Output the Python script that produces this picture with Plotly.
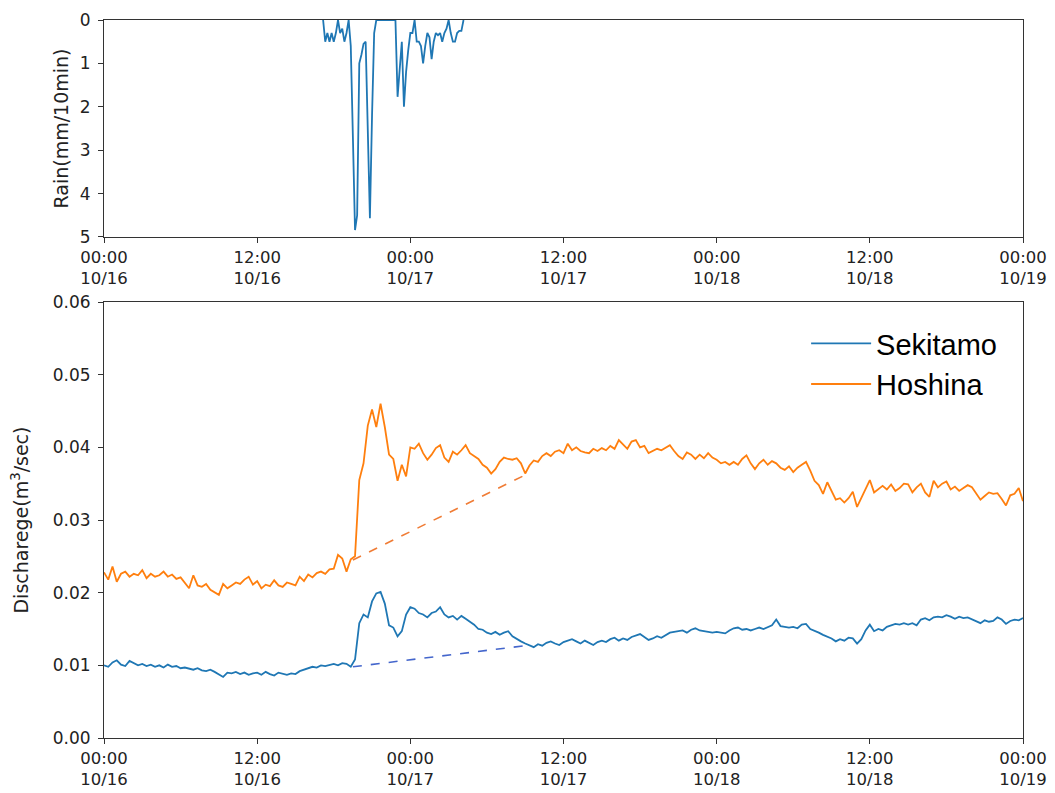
import numpy as np
import pandas as pd
import plotly.graph_objects as go

# ---------------- data ----------------
discharge_start = "2019-10-16 00:00"
discharge_step_min = 20

sekitamo = [
    0.0100, 0.0098, 0.0104, 0.0107, 0.0101, 0.0099, 0.0106, 0.0103, 0.0100,
    0.0102, 0.0099, 0.0101, 0.0098, 0.0100, 0.0097, 0.0101, 0.0098, 0.0099,
    0.0096, 0.0097, 0.0095, 0.0094, 0.0096, 0.0093, 0.0092, 0.0094, 0.0091,
    0.0088, 0.0084, 0.0090, 0.0089, 0.0091, 0.0088, 0.0090, 0.0087, 0.0089,
    0.0090, 0.0087, 0.0091, 0.0088, 0.0086, 0.0090, 0.0089, 0.0087, 0.0089,
    0.0088, 0.0092, 0.0094, 0.0096, 0.0098, 0.0097, 0.0100, 0.0099, 0.0101,
    0.0102, 0.0100, 0.0103, 0.0102, 0.0098, 0.0108, 0.0158, 0.0170, 0.0166,
    0.0188, 0.0199, 0.0201, 0.0185, 0.0155, 0.0152, 0.0140, 0.0147, 0.0170,
    0.0180, 0.0178, 0.0172, 0.0170, 0.0166, 0.0172, 0.0174, 0.0180, 0.0170,
    0.0166, 0.0168, 0.0163, 0.0168, 0.0164, 0.0160, 0.0156, 0.0150, 0.0149,
    0.0145, 0.0143, 0.0146, 0.0142, 0.0145, 0.0147, 0.0140, 0.0136, 0.0133,
    0.0130, 0.0128, 0.0125, 0.0129, 0.0127, 0.0131, 0.0133, 0.0130, 0.0128,
    0.0132, 0.0134, 0.0136, 0.0133, 0.0130, 0.0134, 0.0131, 0.0128, 0.0132,
    0.0134, 0.0132, 0.0136, 0.0138, 0.0134, 0.0137, 0.0135, 0.0139, 0.0141,
    0.0143, 0.0139, 0.0135, 0.0137, 0.0140, 0.0138, 0.0142, 0.0145, 0.0146,
    0.0147, 0.0148, 0.0145, 0.0149, 0.0151, 0.0148, 0.0147, 0.0146, 0.0145,
    0.0146, 0.0145, 0.0144, 0.0148, 0.0151, 0.0152, 0.0149, 0.0150, 0.0148,
    0.0150, 0.0152, 0.0150, 0.0153, 0.0155, 0.0163, 0.0154, 0.0153, 0.0152,
    0.0153, 0.0151, 0.0156, 0.0157, 0.0150, 0.0148, 0.0145, 0.0142, 0.0140,
    0.0137, 0.0133, 0.0136, 0.0134, 0.0138, 0.0137, 0.0130, 0.0136, 0.0148,
    0.0156, 0.0147, 0.0150, 0.0148, 0.0153, 0.0155, 0.0157, 0.0156, 0.0158,
    0.0156, 0.0158, 0.0155, 0.0163, 0.0165, 0.0162, 0.0166, 0.0167, 0.0166,
    0.0169, 0.0167, 0.0164, 0.0167, 0.0165, 0.0166, 0.0163, 0.0161, 0.0158,
    0.0162, 0.0160, 0.0161, 0.0166, 0.0163, 0.0157, 0.0161, 0.0163, 0.0162,
    0.0165,
]

hoshina = [
    0.0228, 0.0218, 0.0236, 0.0215, 0.0226, 0.0229, 0.0222, 0.0226, 0.0224,
    0.0231, 0.0220, 0.0226, 0.0222, 0.0224, 0.0229, 0.0222, 0.0225, 0.0219,
    0.0221, 0.0214, 0.0206, 0.0224, 0.0210, 0.0208, 0.0212, 0.0204, 0.0201,
    0.0197, 0.0212, 0.0206, 0.0210, 0.0214, 0.0212, 0.0218, 0.0222, 0.0211,
    0.0216, 0.0206, 0.0211, 0.0209, 0.0217, 0.0210, 0.0208, 0.0214, 0.0212,
    0.0210, 0.0222, 0.0216, 0.0225, 0.0221, 0.0227, 0.0229, 0.0226, 0.0232,
    0.0233, 0.0252, 0.0247, 0.0229, 0.0246, 0.0250, 0.0355, 0.0378, 0.0430,
    0.0452, 0.0428, 0.0460, 0.0428, 0.0390, 0.0384, 0.0354, 0.0376, 0.0360,
    0.0400, 0.0398, 0.0405, 0.0392, 0.0383, 0.0390, 0.0399, 0.0403, 0.0386,
    0.0380, 0.0394, 0.0390, 0.0396, 0.0403, 0.0392, 0.0388, 0.0384, 0.0376,
    0.0372, 0.0364, 0.0370, 0.0380, 0.0386, 0.0384, 0.0383, 0.0385, 0.0378,
    0.0364, 0.0375, 0.0382, 0.0380, 0.0388, 0.0392, 0.0388, 0.0394, 0.0396,
    0.0392, 0.0405, 0.0396, 0.0400, 0.0395, 0.0393, 0.0392, 0.0398, 0.0395,
    0.0399, 0.0396, 0.0402, 0.0398, 0.0410, 0.0404, 0.0398, 0.0408, 0.0410,
    0.0400, 0.0402, 0.0392, 0.0395, 0.0398, 0.0396, 0.0400, 0.0403, 0.0395,
    0.0388, 0.0384, 0.0393, 0.0390, 0.0384, 0.0390, 0.0385, 0.0392, 0.0386,
    0.0383, 0.0378, 0.0380, 0.0376, 0.0380, 0.0376, 0.0384, 0.0389, 0.0378,
    0.0370, 0.0378, 0.0383, 0.0376, 0.0381, 0.0378, 0.0372, 0.0369, 0.0374,
    0.0366, 0.0372, 0.0376, 0.0380, 0.0368, 0.0354, 0.0348, 0.0336, 0.0352,
    0.0340, 0.0328, 0.0330, 0.0324, 0.0330, 0.0339, 0.0318, 0.0330, 0.0342,
    0.0355, 0.0338, 0.0342, 0.0347, 0.0342, 0.0349, 0.0340, 0.0344, 0.0350,
    0.0349, 0.0338, 0.0345, 0.0350, 0.0338, 0.0332, 0.0354, 0.0345, 0.0350,
    0.0353, 0.0342, 0.0346, 0.0340, 0.0344, 0.0348, 0.0345, 0.0336, 0.0328,
    0.0333, 0.0338, 0.0336, 0.0337, 0.0329, 0.0320, 0.0334, 0.0336, 0.0344,
    0.0326,
]

rain_start = "2019-10-16 17:10"
rain_step_min = 10
rain = [
    0.0, 0.5, 0.3, 0.5, 0.3, 0.5, 0.3, 0.0, 0.3, 0.2,
    0.5, 0.3, 0.0, 0.6, 2.7, 4.84, 4.5, 1.0, 0.8, 0.55,
    0.5, 2.3, 4.57, 2.2, 0.3, 0.0, 0.0, 0.0, 0.0, 0.0,
    0.0, 0.0, 0.0, 0.0, 0.0, 1.77, 1.0, 0.5, 2.0, 1.2,
    0.7, 0.3, 0.3, 0.0, 0.5, 0.5, 0.6, 1.0, 0.6, 0.3,
    0.4, 0.9, 0.5, 0.3, 0.35, 0.3, 0.5, 0.3, 0.2, 0.0,
    0.3, 0.5, 0.5, 0.3, 0.25, 0.25, 0.0,
]

# baseflow separation lines (start / end of event)
base_times = ["2019-10-16 19:30", "2019-10-17 09:00"]
base_sekitamo = [0.0098, 0.0127]
base_hoshina = [0.0245, 0.0362]

tick_times = ["2019-10-16 00:00", "2019-10-16 12:00", "2019-10-17 00:00",
              "2019-10-17 12:00", "2019-10-18 00:00", "2019-10-18 12:00",
              "2019-10-19 00:00"]
tick_labels = ["00:00<br>10/16", "12:00<br>10/16", "00:00<br>10/17",
               "12:00<br>10/17", "00:00<br>10/18", "12:00<br>10/18",
               "00:00<br>10/19"]

# ---------------- build ----------------
t_dis = pd.Timestamp(discharge_start) + pd.to_timedelta(
    np.arange(len(sekitamo)) * discharge_step_min, unit="min")
t_rain = pd.Timestamp(rain_start) + pd.to_timedelta(
    np.arange(len(rain)) * rain_step_min, unit="min")
base_t = pd.to_datetime(base_times)
x_range = [pd.Timestamp(tick_times[0]), pd.Timestamp(tick_times[-1])]

BLUE = "#1f77b4"
ORANGE = "#ff7f0e"
FONT = "DejaVu Sans"
AX = "#333333"
TXT = "#222222"

fig = go.Figure()
fig.add_trace(go.Scatter(x=t_rain, y=rain, mode="lines",
                         line=dict(color=BLUE, width=1.8),
                         xaxis="x", yaxis="y", showlegend=False))
fig.add_trace(go.Scatter(x=t_dis, y=sekitamo, mode="lines", name="Sekitamo",
                         line=dict(color=BLUE, width=1.8),
                         xaxis="x2", yaxis="y2"))
fig.add_trace(go.Scatter(x=t_dis, y=hoshina, mode="lines", name="Hoshina",
                         line=dict(color=ORANGE, width=1.8),
                         xaxis="x2", yaxis="y2"))
fig.add_trace(go.Scatter(x=base_t, y=base_sekitamo, mode="lines",
                         line=dict(color="#4466cc", width=1.6, dash="dash"),
                         xaxis="x2", yaxis="y2", showlegend=False))
fig.add_trace(go.Scatter(x=base_t, y=base_hoshina, mode="lines",
                         line=dict(color="#f07c35", width=1.6, dash="dash"),
                         xaxis="x2", yaxis="y2", showlegend=False))

xcommon = dict(type="date", range=x_range, tickvals=pd.to_datetime(tick_times),
               ticktext=tick_labels, ticks="outside", ticklen=5,
               tickcolor=AX, showline=True, linecolor=AX, linewidth=1,
               mirror=True, showgrid=False, zeroline=False, automargin=False,
               tickfont=dict(family=FONT, size=16.5, color=TXT))
ycommon = dict(ticks="outside", ticklen=5, tickcolor=AX, showline=True,
               linecolor=AX, linewidth=1, mirror=True, showgrid=False,
               zeroline=False, automargin=False, ticklabelstandoff=4,
               tickfont=dict(family=FONT, size=17, color=TXT))

# page body adds an 8px margin, so the figure is sized to fit the window
fig.update_layout(
    width=1047, height=785,
    margin=dict(l=96, r=32, t=12, b=55),
    paper_bgcolor="white", plot_bgcolor="white",
    font=dict(family=FONT, color=TXT),
    xaxis=dict(domain=[0, 1], anchor="y", **xcommon),
    yaxis=dict(domain=[0.6978, 1.0], anchor="x", range=[5, 0],
               tickvals=[0, 1, 2, 3, 4, 5],
               title=dict(text="Rain(mm/10min)", font=dict(family=FONT, size=19),
                          standoff=6),
               **ycommon),
    xaxis2=dict(domain=[0, 1], anchor="y2", **xcommon),
    yaxis2=dict(domain=[0, 0.6072], anchor="x2", range=[0, 0.06],
                tickvals=[0, 0.01, 0.02, 0.03, 0.04, 0.05, 0.06],
                tickformat=".2f",
                title=dict(text="Discharege(m<sup>3</sup>/sec)",
                           font=dict(family=FONT, size=19), standoff=19),
                **ycommon),
    legend=dict(x=0.764, y=0.585, xanchor="left", yanchor="top",
                bgcolor="rgba(0,0,0,0)",
                font=dict(family="Liberation Sans", size=29, color="black"),
                itemwidth=60, tracegroupgap=0),
)

fig.write_html("out.html")
